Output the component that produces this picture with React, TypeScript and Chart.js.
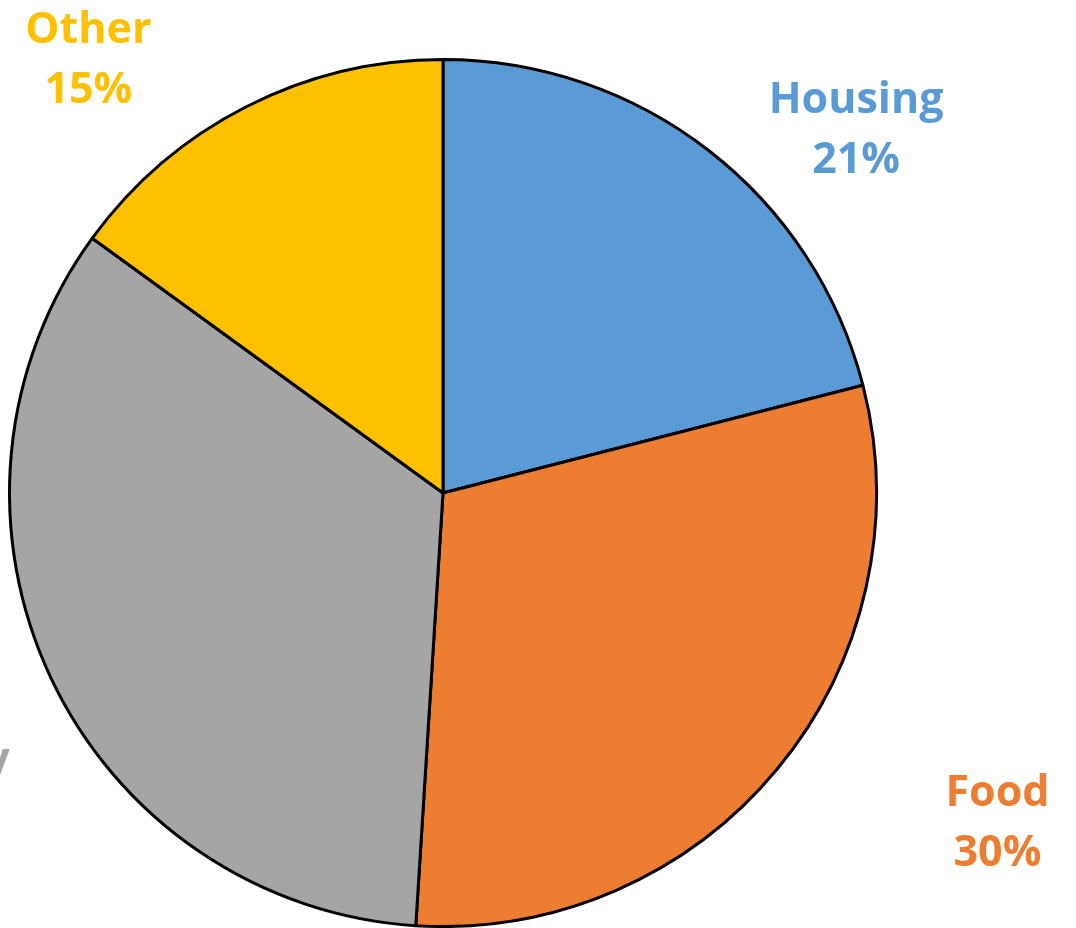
import React, { useEffect, useRef } from "react";
import { Chart, registerables } from "chart.js";

Chart.register(...registerables);

const categories = ["Housing", "Food", "Everyday", "Other"];
const shares = [21, 30, 34, 15];
const sliceColors = ["#5B9BD5", "#ED7D31", "#A5A5A5", "#FFC000"];
const labelColors = ["#5B9BD5", "#ED7D31", "#A5A5A5", "#FFC000"];
// label anchor offsets from the pie centre, in units of the radius (x: text centre, y: first baseline)
const labelOffsetX = [0.953, 1.279, -1.225, -0.818];
const labelOffsetY = [-0.876, 0.721, 0.645, -1.039];

const labelPlugin = {
  id: "sliceLabels",
  afterDatasetsDraw(chart: any) {
    const meta = chart.getDatasetMeta(0);
    const ctx = chart.ctx;
    const data = chart.data.datasets[0].data as number[];
    const total = data.reduce((a: number, b: number) => a + b, 0);
    ctx.save();
    ctx.font = "bold 43px 'Open Sans'";
    ctx.textAlign = "center";
    ctx.textBaseline = "alphabetic";
    meta.data.forEach((arc: any, i: number) => {
      const r = arc.outerRadius;
      const x = arc.x + labelOffsetX[i] * r;
      const y = arc.y + labelOffsetY[i] * r;
      ctx.fillStyle = labelColors[i];
      ctx.fillText(String(chart.data.labels[i]), x, y);
      ctx.fillText(Math.round((data[i] / total) * 100) + "%", x, y + 60);
    });
    ctx.restore();
  },
};

export default function App() {
  const ref = useRef<HTMLCanvasElement | null>(null);
  useEffect(() => {
    if (!ref.current) return;
    const chart = new Chart(ref.current, {
      type: "pie",
      data: {
        labels: categories,
        datasets: [
          {
            data: shares,
            backgroundColor: sliceColors,
            borderColor: "#000000",
            borderWidth: 3,
          },
        ],
      },
      options: {
        responsive: false,
        maintainAspectRatio: false,
        animation: false,
        layout: { padding: { left: 8, top: 58, right: 198, bottom: 0 } },
        plugins: { legend: { display: false }, tooltip: { enabled: false } },
      },
      plugins: [labelPlugin],
    });
    return () => chart.destroy();
  }, []);
  return (
    <div style={{ position: "fixed", left: 0, top: 0, width: 1076, height: 928, background: "#ffffff", overflow: "hidden" }}>
      <canvas ref={ref} width={1076} height={928} style={{ width: 1076, height: 928, display: "block" }} />
    </div>
  );
}
